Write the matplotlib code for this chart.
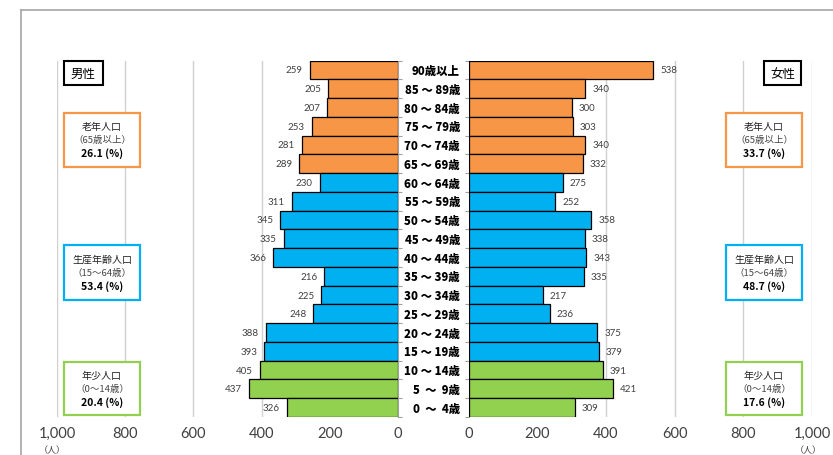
import numpy as np
import matplotlib
matplotlib.use("Agg")
import matplotlib.pyplot as plt
from matplotlib.patches import Rectangle
from matplotlib.lines import Line2D
import matplotlib.transforms as mtrans

plt.rcParams['font.family'] = ['Noto Sans CJK JP', 'DejaVu Sans']

# ---- data ----
ages = ['90歳以上', '85 ～ 89歳', '80 ～ 84歳', '75 ～ 79歳', '70 ～ 74歳', '65 ～ 69歳',
        '60 ～ 64歳', '55 ～ 59歳', '50 ～ 54歳', '45 ～ 49歳', '40 ～ 44歳', '35 ～ 39歳',
        '30 ～ 34歳', '25 ～ 29歳', '20 ～ 24歳', '15 ～ 19歳', '10 ～ 14歳', '5  ～  9歳',
        '0  ～  4歳']
male = [259, 205, 207, 253, 281, 289, 230, 311, 345, 335, 366, 216, 225, 248, 388, 393, 405, 437, 326]
female = [538, 340, 300, 303, 340, 332, 275, 252, 358, 338, 343, 335, 217, 236, 375, 379, 391, 421, 309]
groups = ['old'] * 6 + ['work'] * 10 + ['young'] * 3
ticks = [0, 200, 400, 600, 800, 1000]
male_share = {'old': '26.1 (%)', 'work': '53.4 (%)', 'young': '20.4 (%)'}
female_share = {'old': '33.7 (%)', 'work': '48.7 (%)', 'young': '17.6 (%)'}
group_names = {'old': ('老年人口', '（65歳以上）'),
               'work': ('生産年齢人口', '（15～64歳）'),
               'young': ('年少人口', '（0～14歳）')}

colors = {'old': '#F79646', 'work': '#00B0F0', 'young': '#92D050'}

W, H = 833, 456
fig = plt.figure(figsize=(W / 100, H / 100), dpi=100)
fig.patch.set_facecolor('white')

top_px, bot_px = 61.5, 418.0
ab = (H - bot_px) / H
ah = (bot_px - top_px) / H
axL = fig.add_axes([57 / W, ab, (398 - 57) / W, ah])
axR = fig.add_axes([468.5 / W, ab, (812 - 468.5) / W, ah])

n = len(ages)
y = np.arange(n)[::-1]
barcols = [colors[g] for g in groups]
numfont = ['Lato', 'DejaVu Sans']

for ax, vals, side in ((axL, male, 'L'), (axR, female, 'R')):
    ax.barh(y, vals, height=1.0, color=barcols, edgecolor='black', linewidth=0.9, zorder=3)
    ax.set_ylim(-0.5, n - 0.5)
    ax.set_xlim(0, 1000)
    ax.set_xticks(ticks)
    ax.set_xticklabels([f'{t:,}' for t in ticks], family=numfont, fontsize=10.5, color='#404040')
    ax.tick_params(axis='x', length=0, pad=6.5)
    ax.grid(axis='x', color='#d0d0d0', linewidth=1.0, zorder=0)
    ax.set_axisbelow(True)
    for s in ax.spines.values():
        s.set_visible(False)
    ax.set_yticks([])
    ax.set_yticks(np.arange(-0.5, n, 1.0), minor=True)
    ax.tick_params(axis='y', which='minor', length=3, color='#a0a0a0', width=0.8)
    ax.set_facecolor('none')
    for yi, v in zip(y, vals):
        if side == 'L':
            ax.annotate(str(v), (v, yi), xytext=(-5, 0), textcoords='offset points',
                        ha='right', va='center', fontsize=7, family=numfont, color='#404040')
        else:
            ax.annotate(str(v), (v, yi), xytext=(5, 0), textcoords='offset points',
                        ha='left', va='center', fontsize=7, family=numfont, color='#404040')

axL.invert_xaxis()
axL.spines['right'].set_visible(True)
axL.spines['right'].set_color('#a0a0a0')
axL.yaxis.tick_right()
axL.tick_params(axis='y', which='minor', right=True, left=False, direction='out')
axR.spines['left'].set_visible(True)
axR.spines['left'].set_color('#a0a0a0')
axR.tick_params(axis='y', which='minor', left=True, direction='out')

# age labels
tr = mtrans.blended_transform_factory(fig.transFigure, axL.transData)
for yi, a in zip(y, ages):
    fig.text(460 / W, yi, a, transform=tr, ha='right', va='center',
             fontsize=8.2, fontweight='black', color='black')

# overlay for boxes and frame
ov = fig.add_axes([0, 0, 1, 1], zorder=10)
ov.set_xlim(0, W)
ov.set_ylim(H, 0)
ov.axis('off')
ov.patch.set_alpha(0)

ov.add_line(Line2D([21, W], [11, 11], color='#a6a6a6', linewidth=1.2))
ov.add_line(Line2D([21, 21], [11, H], color='#a6a6a6', linewidth=1.2))

# gender boxes
for x0, x1, label in ((64, 103, '男性'), (764, 801, '女性')):
    ov.add_patch(Rectangle((x0, 62), x1 - x0, 24, facecolor='white', edgecolor='black', linewidth=1.5))
    ov.text((x0 + x1) / 2, 74.5, label, ha='center', va='center', fontsize=9, color='black')

box_y = {'old': (114, 168), 'work': (246, 301), 'young': (363, 416)}
for x0, x1, shares in ((64, 140, male_share), (726, 802, female_share)):
    cx = (x0 + x1) / 2
    for g in ('old', 'work', 'young'):
        y0, y1 = box_y[g]
        ov.add_patch(Rectangle((x0, y0), x1 - x0, y1 - y0, facecolor='white',
                               edgecolor=colors[g], linewidth=1.6))
        cy = (y0 + y1) / 2
        n1, n2 = group_names[g]
        ov.text(cx, cy - 13.5, n1, ha='center', va='center', fontsize=7.2, color='#222222')
        ov.text(cx, cy - 0.5, n2, ha='center', va='center', fontsize=6.8, color='#444444')
        ov.text(cx, cy + 13, shares[g], ha='center', va='center', fontsize=7.5,
                fontweight='bold', color='black')

ov.text(52, 451, '（人）', ha='center', va='center', fontsize=6.5, color='#444444')
ov.text(808, 451, '（人）', ha='center', va='center', fontsize=6.5, color='#444444')

fig.savefig('out.png', dpi=100)
